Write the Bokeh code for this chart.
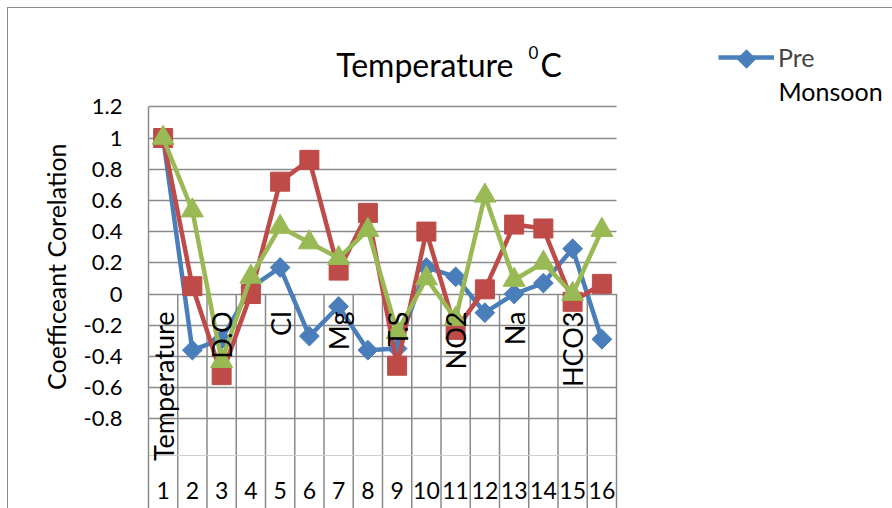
import math
from bokeh.plotting import figure
from bokeh.models import Range1d, FixedTicker, Label, Legend, LegendItem
from bokeh.embed import file_html
from bokeh.resources import INLINE
from bokeh.core.properties import value

# ---------------- data ----------------
category_numbers = [str(i) for i in range(1, 17)]
parameter_labels = ["Temperature", "", "D.O", "", "Cl", "", "Mg", "", "T.S", "",
                    "NO2", "", "Na", "", "HCO3", ""]
pre_monsoon = [1.0, -0.36, -0.29, 0.04, 0.17, -0.27, -0.08, -0.36, -0.35, 0.17,
               0.11, -0.12, 0.0, 0.07, 0.29, -0.29]
series_red = [1.0, 0.05, -0.52, 0.0, 0.72, 0.86, 0.15, 0.52, -0.46, 0.40,
              -0.23, 0.03, 0.445, 0.42, -0.05, 0.065]
series_green = [1.0, 0.535, -0.43, 0.11, 0.43, 0.33, 0.23, 0.41, -0.245, 0.10,
                -0.16, 0.63, 0.09, 0.20, 0.0, 0.41]
y_ticks = [-0.8, -0.6, -0.4, -0.2, 0, 0.2, 0.4, 0.6, 0.8, 1, 1.2]
y_tick_labels = ["-0.8", "-0.6", "-0.4", "-0.2", "0", "0.2", "0.4", "0.6", "0.8", "1", "1.2"]
title_main = "Temperature"
title_sup = "0"
title_unit = "C"
y_label = "Coefficeant  Corelation"
legend_label_1 = "Pre"
legend_label_2 = "Monsoon"

FONT = "Lato"
BLUE = "#4A7EBB"
RED = "#BE4B48"
GREEN = "#98B954"
GRID = "#8a8a8a"

n = len(category_numbers)
xs = list(range(1, n + 1))

# frame geometry (page pixels)
LEFT, TOP, W, H = 148, 18, 892, 508
PX_PER_CAT = 29.25
PX_PER_UNIT = 156.0
ZERO_PY = 293.5

def dx(px):  # page x -> data x
    return 0.5 + (px - LEFT) / PX_PER_CAT

def dy(py):  # page y -> data y
    return (ZERO_PY - py) / PX_PER_UNIT

x_start, x_end = dx(LEFT), dx(W)
y_top, y_bottom = dy(TOP), dy(H)
x_last = 0.5 + n
y_max = y_ticks[-1]

p = figure(width=W, height=H, frame_width=W - LEFT, frame_height=H - TOP,
           x_range=Range1d(x_start, x_end), y_range=Range1d(y_bottom, y_top),
           x_axis_location=None, toolbar_location=None, output_backend="svg",
           min_border_left=LEFT, min_border_right=0, min_border_top=TOP, min_border_bottom=0,
           background_fill_color="white", border_fill_color=None,
           styles={"background": "linear-gradient(#8a8a8a,#8a8a8a) 7px 7px / 1px 100% no-repeat, "
                                 "linear-gradient(#8a8a8a,#8a8a8a) 7px 7px / 100% 1px no-repeat, white"})
p.outline_line_color = None

# y axis
ya = p.yaxis[0]
ya.ticker = FixedTicker(ticks=y_ticks)
ya.bounds = (y_bottom, y_max)
ya.major_label_overrides = {t: l for t, l in zip(y_ticks, y_tick_labels)}
ya.major_tick_line_color = None
ya.minor_tick_line_color = None
ya.axis_line_color = GRID
ya.axis_line_width = 1.5
ya.major_label_text_font = FONT
ya.major_label_text_font_size = "22px"
ya.major_label_text_color = "black"
ya.major_label_standoff = 20
ya.axis_label = y_label
ya.axis_label_text_font = FONT
ya.axis_label_text_font_size = "25px"
ya.axis_label_text_font_style = "normal"
ya.axis_label_text_color = "black"
ya.axis_label_standoff = 10

p.xgrid.visible = False
yg = p.ygrid[0]
if "cross_bounds" in yg.properties():
    yg.ticker = FixedTicker(ticks=y_ticks)
    yg.cross_bounds = (x_start, x_last)
    yg.grid_line_color = GRID
    yg.grid_line_width = 1.5
else:
    yg.visible = False
    p.segment(x0=[x_start] * len(y_ticks), y0=y_ticks, x1=[x_last] * len(y_ticks), y1=y_ticks,
              line_color=GRID, line_width=1.5)

# vertical category separators below zero
bounds = [i + 0.5 for i in range(1, n + 1)]
p.segment(x0=bounds, y0=[0] * n, x1=bounds, y1=[y_bottom] * n,
          line_color=GRID, line_width=1.5)
# faint divider between label rows
p.segment(x0=[x_start], y0=[dy(455)], x1=[x_last], y1=[dy(455)],
          line_color="#d0d0d0", line_width=1)

# series
bl = p.line(xs, pre_monsoon, line_color=BLUE, line_width=4.5, line_join="round")
bs = p.scatter(xs, pre_monsoon, marker="square", angle=math.pi / 4, size=14,
               fill_color=BLUE, line_color=BLUE)
p.line(xs, series_red, line_color=RED, line_width=4.5, line_join="round")
p.scatter(xs, series_red, marker="square", size=19, fill_color=RED, line_color=RED)
p.line(xs, series_green, line_color=GREEN, line_width=4.5, line_join="round")
p.scatter(xs, series_green, marker="triangle", size=22, fill_color=GREEN, line_color=GREEN)

# category labels (rotated) and numbers
p.text(x=xs, y=[dy(311)] * n, text=parameter_labels, angle=math.pi / 2,
       text_align="right", text_baseline="middle", text_font=value(FONT),
       text_font_size="27px", text_color="black")
p.text(x=xs, y=[dy(490)] * n, text=category_numbers, text_align="center",
       text_baseline="middle", text_font=value(FONT), text_font_size="23px",
       text_color="black")

# title
p.add_layout(Label(x=dx(513), y=dy(64), text=title_main, text_align="right",
                   text_baseline="alphabetic", text_font=FONT, text_font_size="32px",
                   text_color="black"))
p.add_layout(Label(x=dx(528), y=dy(51.5), text=title_sup, text_align="left",
                   text_baseline="alphabetic", text_font=FONT, text_font_size="17px",
                   text_color="black"))
p.add_layout(Label(x=dx(540), y=dy(64), text=title_unit, text_align="left",
                   text_baseline="alphabetic", text_font=FONT, text_font_size="32px",
                   text_color="black"))

# legend (line sample from the Legend, diamond overlaid on its centre)
legend = Legend(items=[LegendItem(label=legend_label_1, renderers=[bl])],
                location=(570, 436), background_fill_alpha=0, border_line_alpha=0,
                padding=0, margin=0, glyph_width=56, glyph_height=20, label_standoff=4,
                label_text_font=FONT, label_text_font_size="25px")
p.add_layout(legend)
p.scatter([dx(746)], [dy(58.5)], marker="square", angle=math.pi / 4, size=13,
          fill_color=BLUE, line_color=BLUE)
p.add_layout(Label(x=dx(778), y=dy(90), text=legend_label_2, text_align="left",
                   text_baseline="middle", text_font=FONT, text_font_size="25px",
                   text_color="black"))

open("out.html", "w").write(file_html(p, INLINE))
